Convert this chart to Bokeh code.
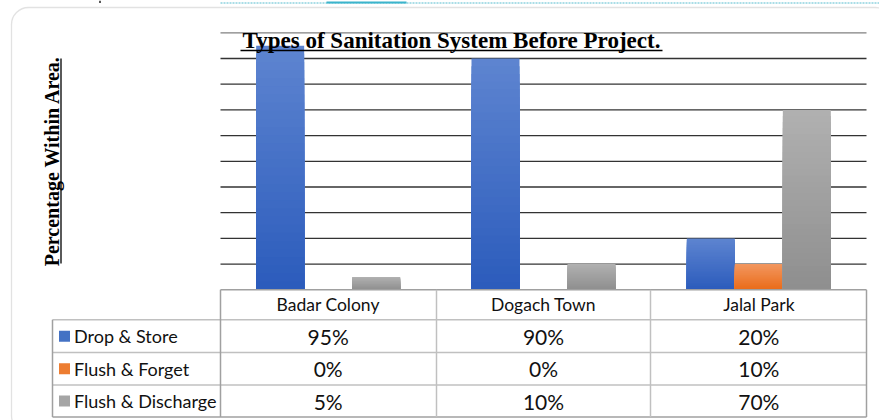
import math
from bokeh.plotting import figure
from bokeh.models import Range1d, ColumnDataSource, BoxAnnotation
from bokeh.core.properties import value
from bokeh.embed import file_html
from bokeh.resources import INLINE

# ---------------- data ----------------
categories = ["Badar Colony", "Dogach Town", "Jalal Park"]
series_names = ["Drop & Store", "Flush & Forget", "Flush & Discharge"]
drop_store = [95, 90, 20]
flush_forget = [0, 0, 10]
flush_discharge = [5, 10, 70]
y_ticks = [10, 20, 30, 40, 50, 60, 70, 80, 90, 100]
title_text = "Types of Sanitation System Before Project."
y_label_text = "Percentage Within Area."

series_values = [drop_store, flush_forget, flush_discharge]
# gradient (top colour, bottom colour) per series, and swatch colours
grad_colors = [("#5d84d0", "#2c5cbc"), ("#f2965e", "#ea6c1a"), ("#b0b0b0", "#8f8f8f")]
swatch_colors = ["#4472c4", "#ed7d31", "#a5a5a5"]

# ---------------- layout (reference pixel anchors) ----------------
W, H = 879, 420
OX, OY = 0, 0
PLOT_L, PLOT_R = 220.0, 866.0
BASE_Y, TOP_Y = 289.3, 32.3
ncat = len(categories)
xs = (PLOT_R - PLOT_L) / ncat
ys = (BASE_Y - TOP_Y) / 100.0


def X(px):
    return (px - PLOT_L) / xs


def Y(py):
    return (BASE_Y - py) / ys


p = figure(width=W, height=H, x_range=Range1d(X(OX), X(OX + W)),
           y_range=Range1d(Y(OY + H), Y(OY)), output_backend="svg",
           toolbar_location=None, x_axis_type=None, y_axis_type=None,
           min_border=0, outline_line_color=None, title=None)
p.background_fill_color = "white"
p.border_fill_color = "white"

# outer rounded frame
frame = BoxAnnotation(left=X(11), right=X(892), top=Y(7.0), bottom=Y(432),
                      fill_color=None, fill_alpha=0, line_color="#a0a0a0",
                      line_width=1.3, border_radius=17)
p.add_layout(frame)

# document decoration above the frame
p.segment(x0=[X(220)], x1=[X(879)], y0=[Y(2.5)], y1=[Y(2.5)], line_color="#8fd3e0",
          line_width=1.5, line_dash="2 1")
p.segment(x0=[X(326)], x1=[X(406)], y0=[Y(2)], y1=[Y(2)], line_color="#3cb4cc", line_width=2)
p.segment(x0=[X(99.5)], x1=[X(99.5)], y0=[Y(0)], y1=[Y(2.5)], line_color="#222222", line_width=1.5)

# gridlines at tick values
gsrc = ColumnDataSource(dict(x0=[0] * len(y_ticks), x1=[ncat] * len(y_ticks),
                             y=y_ticks,
                             c=["#808080" if t == 100 else "#333333" for t in y_ticks]))
p.segment(x0="x0", x1="x1", y0="y", y1="y", line_color="c", line_width=1.3, source=gsrc)


def mix(c1, c2, t):
    a = [int(c1[i:i + 2], 16) for i in (1, 3, 5)]
    b = [int(c2[i:i + 2], 16) for i in (1, 3, 5)]
    return "#%02x%02x%02x" % tuple(round(a[k] + (b[k] - a[k]) * t) for k in range(3))


# bars with vertical gradient (stacked overlapping slices)
bw = 48.0 / xs
N = 30
bx, btop, bcol = [], [], []
for j, vals in enumerate(series_values):
    top_c, bot_c = grad_colors[j]
    for i, v in enumerate(vals):
        if v <= 0:
            continue
        cx = i + 0.5 + (j - 1) * bw
        for k in range(N):
            bx.append(cx)
            btop.append(v * (N - k) / N)
            bcol.append(mix(top_c, bot_c, k / (N - 1)))
bsrc = ColumnDataSource(dict(x=bx, top=btop, c=bcol))
p.vbar(x="x", width=bw, bottom=0, top="top", fill_color="c", line_color=None, source=bsrc)

# title with underline
p.text(x=[X(451)], y=[Y(39.5)], text=[title_text], text_align="center",
       text_baseline="middle", text_font=value("Liberation Serif"),
       text_font_style="bold", text_font_size="23px", text_color="black")
p.segment(x0=[X(240)], x1=[X(662)], y0=[Y(50)], y1=[Y(50)], line_color="black", line_width=1.5)

# y-axis label with underline
p.text(x=[X(51)], y=[Y(160.5)], text=[y_label_text], angle=math.pi / 2,
       text_align="center", text_baseline="middle",
       text_font=value("Liberation Serif"), text_font_style="bold",
       text_font_size="20px", text_color="black")
p.segment(x0=[X(60.5)], x1=[X(60.5)], y0=[Y(58)], y1=[Y(263)], line_color="black", line_width=1.3)

# ---------------- data table ----------------
col_edges = [220, 436, 650, 866]
row_edges = [289.3, 319.3, 352.0, 384.5, 416.5]
TABLE_L = 52
inner = "#c0c0c0"
outer = "#a0a0a0"
hx0, hx1, hy0, hy1, hc, hw = [], [], [], [], [], []
for r, yy in enumerate(row_edges):
    x0 = col_edges[0] if r == 0 else TABLE_L
    hx0.append(X(x0)); hx1.append(X(col_edges[-1])); hy0.append(Y(yy)); hy1.append(Y(yy))
    hc.append(outer if r in (0, len(row_edges) - 1) else inner); hw.append(1.5)
for ci, xx in enumerate(col_edges):
    hx0.append(X(xx)); hx1.append(X(xx)); hy0.append(Y(row_edges[0])); hy1.append(Y(row_edges[-1]))
    hc.append(outer if ci in (0, len(col_edges) - 1) else inner); hw.append(1.5)
hx0.append(X(TABLE_L)); hx1.append(X(TABLE_L)); hy0.append(Y(row_edges[1])); hy1.append(Y(row_edges[-1]))
hc.append(outer); hw.append(1.5)
tsrc = ColumnDataSource(dict(x0=hx0, x1=hx1, y0=hy0, y1=hy1, c=hc, w=hw))
p.segment(x0="x0", x1="x1", y0="y0", y1="y1", line_color="c", line_width="w", source=tsrc)

FONT = value("Lato")
# header labels
p.text(x=[i + 0.5 for i in range(ncat)], y=[Y((row_edges[0] + row_edges[1]) / 2)] * ncat,
       text=categories, text_align="center", text_baseline="middle",
       text_font=FONT, text_font_size="17.5px", text_color="#111111")

# value cells
vx, vy, vt = [], [], []
for j, vals in enumerate(series_values):
    yc = Y((row_edges[j + 1] + row_edges[j + 2]) / 2)
    for i, v in enumerate(vals):
        vx.append(i + 0.5); vy.append(yc); vt.append(f"{v}%")
p.text(x=vx, y=vy, text=vt, text_align="center", text_baseline="middle",
       text_font=FONT, text_font_size="21px", text_color="#111111")

# legend column
ly = [Y((row_edges[j + 1] + row_edges[j + 2]) / 2) for j in range(len(series_names))]
p.scatter(x=[X(64)] * 3, y=ly, marker="square", size=11, fill_color=swatch_colors,
          line_color=None)
p.text(x=[X(73.5)] * 3, y=ly, text=series_names, text_align="left", text_baseline="middle",
       text_font=FONT, text_font_size="18px", text_color="#111111")

open("out.html", "w").write(file_html(p, INLINE))
